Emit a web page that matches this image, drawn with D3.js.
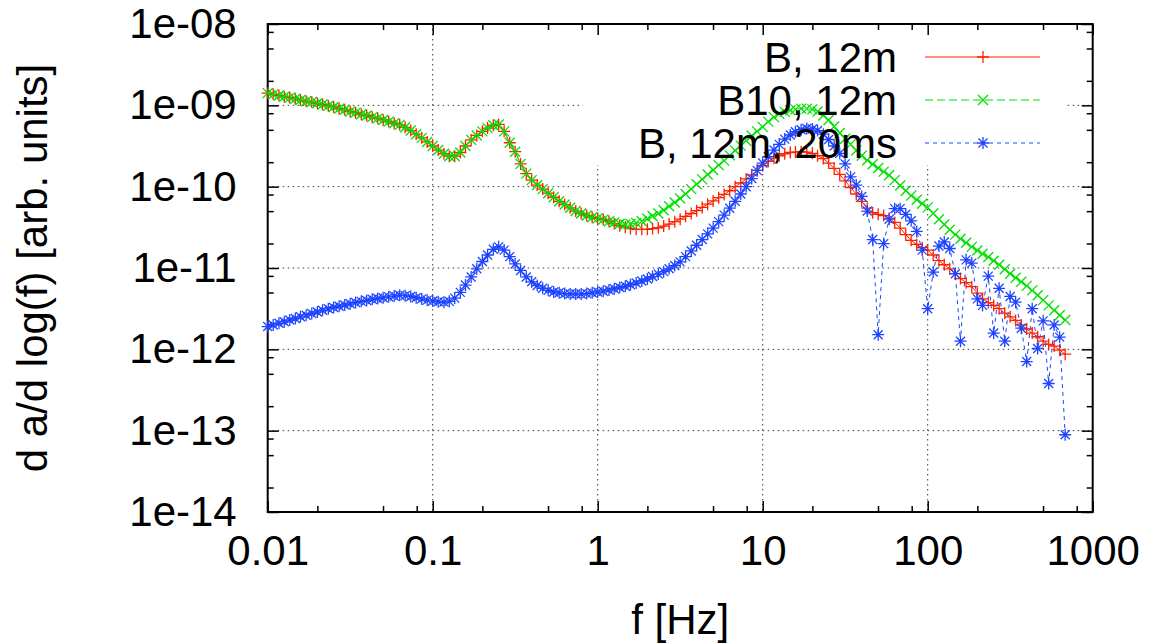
<!DOCTYPE html>
<html><head><meta charset="utf-8">
<script src="https://cdn.jsdelivr.net/npm/d3@7"></script>
<style>
body{margin:0;background:#fff}
svg text{font-family:"Liberation Sans",Arial,Helvetica,sans-serif;fill:#000}
</style>
</head><body>
<svg id="c" width="1169" height="644"></svg>
<script>
// ---------------- data ----------------
const freq = [
0.0100,0.0108,0.0117,0.0126,0.0136,0.0147,0.0158,0.0171,0.0185,0.0200,
0.0215,0.0233,0.0251,0.0271,0.0293,0.0316,0.0341,0.0369,0.0398,0.0430,
0.0464,0.0501,0.0541,0.0584,0.0631,0.0681,0.0736,0.0794,0.0858,0.0926,
0.100,0.108,0.117,0.126,0.136,0.147,0.158,0.171,0.185,0.200,
0.215,0.233,0.251,0.271,0.293,0.316,0.341,0.369,0.398,0.430,
0.464,0.501,0.541,0.584,0.631,0.681,0.736,0.794,0.858,0.926,
1.00,1.08,1.17,1.26,1.36,1.47,1.58,1.71,1.85,2.00,
2.15,2.33,2.51,2.71,2.93,3.16,3.41,3.69,3.98,4.30,
4.64,5.01,5.41,5.84,6.31,6.81,7.36,7.94,8.58,9.26,
10.0,10.8,11.7,12.6,13.6,14.7,15.8,17.1,18.5,20.0,
21.5,23.3,25.1,27.1,29.3,31.6,34.1,36.9,39.8,43.0,
46.4,50.1,54.1,58.4,63.1,68.1,73.6,79.4,85.8,92.6,
100,108,117,126,136,147,158,171,185,200,
215,233,251,271,293,316,341,369,398,430,
464,501,541,584,631,681];

// values given as log10 of d a/d log(f) [arb. units]
const log10_B12m = [
-8.850,-8.865,-8.880,-8.895,-8.905,-8.920,-8.935,-8.950,-8.960,-8.975,
-8.990,-9.005,-9.020,-9.040,-9.055,-9.075,-9.090,-9.110,-9.125,-9.145,
-9.160,-9.180,-9.200,-9.220,-9.240,-9.270,-9.310,-9.355,-9.400,-9.450,
-9.500,-9.550,-9.595,-9.625,-9.625,-9.580,-9.500,-9.425,-9.370,-9.320,
-9.280,-9.245,-9.235,-9.320,-9.460,-9.570,-9.720,-9.840,-9.920,-9.980,
-10.030,-10.080,-10.130,-10.180,-10.220,-10.260,-10.300,-10.330,-10.355,-10.375,
-10.390,-10.405,-10.425,-10.455,-10.480,-10.500,-10.515,-10.525,-10.525,-10.525,
-10.515,-10.505,-10.485,-10.460,-10.430,-10.400,-10.365,-10.330,-10.295,-10.255,
-10.215,-10.175,-10.135,-10.095,-10.050,-10.000,-9.955,-9.905,-9.855,-9.800,
-9.740,-9.690,-9.650,-9.620,-9.595,-9.580,-9.575,-9.570,-9.575,-9.590,
-9.620,-9.655,-9.710,-9.775,-9.850,-9.930,-10.010,-10.090,-10.180,-10.265,
-10.320,-10.340,-10.355,-10.390,-10.440,-10.510,-10.590,-10.660,-10.710,-10.750,
-10.780,-10.840,-10.910,-10.960,-11.010,-11.070,-11.130,-11.180,-11.230,-11.310,
-11.380,-11.425,-11.460,-11.500,-11.555,-11.600,-11.645,-11.700,-11.750,-11.800,
-11.845,-11.900,-11.940,-11.960,-12.010,-12.060];

const log10_B10_12m = [
-8.850,-8.865,-8.880,-8.895,-8.905,-8.920,-8.935,-8.950,-8.960,-8.975,
-8.990,-9.005,-9.020,-9.040,-9.055,-9.075,-9.090,-9.110,-9.125,-9.145,
-9.160,-9.180,-9.200,-9.220,-9.240,-9.270,-9.310,-9.355,-9.400,-9.450,
-9.500,-9.550,-9.595,-9.625,-9.625,-9.580,-9.500,-9.425,-9.370,-9.320,
-9.280,-9.245,-9.235,-9.320,-9.460,-9.570,-9.720,-9.840,-9.920,-9.980,
-10.030,-10.080,-10.130,-10.180,-10.220,-10.260,-10.300,-10.330,-10.355,-10.375,
-10.390,-10.405,-10.425,-10.440,-10.455,-10.465,-10.460,-10.445,-10.425,-10.395,
-10.360,-10.330,-10.290,-10.240,-10.195,-10.145,-10.090,-10.030,-9.970,-9.910,
-9.850,-9.795,-9.735,-9.680,-9.615,-9.555,-9.495,-9.435,-9.375,-9.320,
-9.265,-9.200,-9.145,-9.105,-9.080,-9.060,-9.050,-9.040,-9.040,-9.050,
-9.075,-9.125,-9.180,-9.260,-9.340,-9.410,-9.480,-9.555,-9.620,-9.675,
-9.725,-9.770,-9.815,-9.860,-9.920,-9.985,-10.050,-10.110,-10.160,-10.210,
-10.255,-10.330,-10.400,-10.465,-10.530,-10.590,-10.640,-10.690,-10.740,-10.785,
-10.825,-10.865,-10.910,-10.960,-11.015,-11.070,-11.120,-11.170,-11.220,-11.275,
-11.335,-11.395,-11.460,-11.520,-11.580,-11.640];

const log10_B12m_20ms = [
-11.720,-11.700,-11.680,-11.660,-11.640,-11.620,-11.600,-11.580,-11.560,-11.540,
-11.520,-11.500,-11.485,-11.470,-11.455,-11.440,-11.425,-11.410,-11.400,-11.385,
-11.375,-11.365,-11.355,-11.345,-11.335,-11.340,-11.350,-11.365,-11.380,-11.395,
-11.405,-11.415,-11.420,-11.410,-11.370,-11.300,-11.210,-11.110,-11.010,-10.920,
-10.840,-10.770,-10.740,-10.780,-10.860,-10.950,-11.030,-11.110,-11.170,-11.215,
-11.250,-11.275,-11.295,-11.305,-11.315,-11.320,-11.320,-11.320,-11.315,-11.305,
-11.295,-11.285,-11.270,-11.255,-11.240,-11.225,-11.205,-11.185,-11.160,-11.135,
-11.105,-11.075,-11.045,-11.010,-10.970,-10.925,-10.860,-10.790,-10.720,-10.650,
-10.580,-10.510,-10.430,-10.350,-10.265,-10.180,-10.090,-10.000,-9.900,-9.800,
-9.710,-9.630,-9.550,-9.480,-9.415,-9.365,-9.325,-9.300,-9.285,-9.290,
-9.310,-9.355,-9.420,-9.500,-9.590,-9.720,-9.880,-9.980,-10.120,-10.300,
-10.650,-11.820,-10.700,-10.400,-10.270,-10.270,-10.340,-10.420,-10.550,-10.780,
-11.500,-11.050,-10.730,-10.680,-10.760,-11.070,-11.900,-10.900,-10.940,-11.380,
-11.460,-11.100,-11.800,-11.250,-11.900,-11.350,-11.420,-11.740,-12.150,-11.500,
-11.990,-11.650,-12.420,-11.700,-11.850,-13.050];

const seriesNames = ["B, 12m", "B10, 12m", "B, 12m, 20ms"];
const xTickValues = [0.01, 0.1, 1, 10, 100, 1000];
const xTickLabels = ["0.01", "0.1", "1", "10", "100", "1000"];
const yTickValues = [1e-14, 1e-13, 1e-12, 1e-11, 1e-10, 1e-9, 1e-8];
const yTickLabels = ["1e-14", "1e-13", "1e-12", "1e-11", "1e-10", "1e-09", "1e-08"];
const xTitle = "f [Hz]";
const yTitle = "d a/d log(f) [arb. units]";

// ---------------- layout ----------------
const L = 267.7, R = 1092.7, T = 24, B = 512;
const FS = 42;
const svg = d3.select("#c");
const x = d3.scaleLog().domain([0.01, 1000]).range([L, R]);
const y = d3.scaleLog().domain([1e-14, 1e-8]).range([B, T]);

const minorMult = [2, 5, 8];
const xMinor = [], yMinor = [];
xTickValues.slice(0, -1).forEach(d => minorMult.forEach(m => xMinor.push(d * m)));
yTickValues.slice(0, -1).forEach(d => minorMult.forEach(m => yMinor.push(d * m)));

// grid
const gridStyle = g => g.attr("stroke", "#3a3a3a").attr("stroke-width", 1).attr("stroke-dasharray", "1.5,3.5");
const grid = svg.append("g").call(gridStyle);
grid.selectAll("line.gx").data(xTickValues.slice(1, -1)).join("line")
  .attr("x1", d => x(d)).attr("x2", d => x(d)).attr("y1", T).attr("y2", B);
grid.selectAll("line.gy").data(yTickValues.slice(1, -1)).join("line")
  .attr("y1", d => y(d)).attr("y2", d => y(d)).attr("x1", L).attr("x2", R);
// key area keeps the grid out
svg.append("rect").attr("x", 583).attr("y", T + 1).attr("width", 1067 - 583).attr("height", 165 - T - 1).attr("fill", "#fff");

// axes (inward ticks, mirrored)
function styleAxis(g) {
  g.select(".domain").remove();
  g.selectAll("line").attr("stroke", "#000").attr("stroke-width", 1.5);
  g.selectAll("text").attr("font-size", FS).attr("font-family", "Liberation Sans, Arial, sans-serif").attr("fill", "#000");
}
svg.append("g").attr("transform", `translate(0,${B})`)
  .call(d3.axisBottom(x).tickValues(xTickValues).tickSize(-11).tickPadding(23).tickFormat((d, i) => xTickLabels[i])).call(styleAxis);
svg.append("g").attr("transform", `translate(0,${B})`)
  .call(d3.axisBottom(x).tickValues(xMinor).tickSize(-6).tickFormat("")).call(styleAxis);
svg.append("g").attr("transform", `translate(0,${T})`)
  .call(d3.axisTop(x).tickValues(xTickValues).tickSize(-11).tickFormat("")).call(styleAxis);
svg.append("g").attr("transform", `translate(0,${T})`)
  .call(d3.axisTop(x).tickValues(xMinor).tickSize(-6).tickFormat("")).call(styleAxis);
svg.append("g").attr("transform", `translate(${L},0)`)
  .call(d3.axisLeft(y).tickValues(yTickValues).tickSize(-11).tickPadding(31).tickFormat((d, i) => yTickLabels[i])).call(styleAxis);
svg.append("g").attr("transform", `translate(${L},0)`)
  .call(d3.axisLeft(y).tickValues(yMinor).tickSize(-6).tickFormat("")).call(styleAxis);
svg.append("g").attr("transform", `translate(${R},0)`)
  .call(d3.axisRight(y).tickValues(yTickValues).tickSize(-11).tickFormat("")).call(styleAxis);
svg.append("g").attr("transform", `translate(${R},0)`)
  .call(d3.axisRight(y).tickValues(yMinor).tickSize(-6).tickFormat("")).call(styleAxis);

svg.append("rect").attr("x", L).attr("y", T).attr("width", R - L).attr("height", B - T)
  .attr("fill", "none").attr("stroke", "#000").attr("stroke-width", 2);

// titles
svg.append("text").attr("x", (L + R) / 2).attr("y", 634).attr("text-anchor", "middle").attr("font-size", FS).text(xTitle);
svg.append("text").attr("transform", `translate(47,${(T + B) / 2}) rotate(-90)`).attr("text-anchor", "middle").attr("font-size", FS).text(yTitle);

// ---------------- series ----------------
const markers = {
  plus: "M-6,0H6M0,-6V6",
  cross: "M-5,-5L5,5M-5,5L5,-5",
  star: "M-6,0H6M0,-6V6M-4.5,-4.5L4.5,4.5M-4.5,4.5L4.5,-4.5"
};
const series = [
  { name: seriesNames[0], vals: log10_B12m, color: "#ff2200", dash: null, marker: markers.plus },
  { name: seriesNames[1], vals: log10_B10_12m, color: "#00e000", dash: "8,4", marker: markers.cross },
  { name: seriesNames[2], vals: log10_B12m_20ms, color: "#1f44ff", dash: "4,4", marker: markers.star }
].map(s => ({ ...s, data: freq.map((f, i) => ({ f, v: Math.pow(10, s.vals[i]) })) }));

const line = d3.line().x(d => x(d.f)).y(d => y(d.v));
const plot = svg.append("g");
series.forEach(s => {
  const g = plot.append("g");
  g.append("path").attr("d", line(s.data)).attr("fill", "none").attr("stroke", s.color)
    .attr("stroke-width", 1).attr("stroke-dasharray", s.dash);
  g.selectAll("path.m").data(s.data).join("path").attr("class", "m")
    .attr("transform", d => `translate(${x(d.f)},${y(d.v)})`)
    .attr("d", s.marker).attr("fill", "none").attr("stroke", s.color).attr("stroke-width", 1.3);
});

// ---------------- legend ----------------
const legendRows = [57, 100, 143];
const leg = svg.append("g");
series.forEach((s, i) => {
  const cy = legendRows[i];
  leg.append("text").attr("x", 897).attr("y", cy + 15).attr("text-anchor", "end").attr("font-size", FS).text(s.name);
  leg.append("line").attr("x1", 925).attr("x2", 1040).attr("y1", cy).attr("y2", cy)
    .attr("stroke", s.color).attr("stroke-width", 1).attr("stroke-dasharray", s.dash);
  leg.append("path").attr("transform", `translate(983,${cy})`).attr("d", s.marker)
    .attr("fill", "none").attr("stroke", s.color).attr("stroke-width", 1.3);
});
</script>
</body></html>
